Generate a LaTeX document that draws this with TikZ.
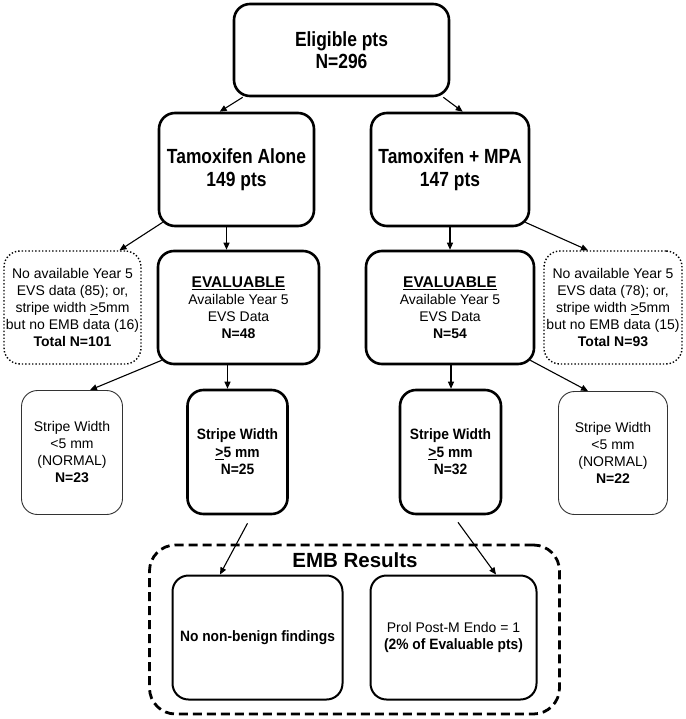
\documentclass[tikz,border=0pt]{standalone}
\usepackage{fontspec}
\setmainfont{Liberation Sans}
\newfontfamily\condA{Liberation Sans}[FakeStretch=0.85]
\newfontfamily\condB{Liberation Sans}[FakeStretch=0.92]
\usetikzlibrary{arrows.meta,calc}
\begin{document}
\begin{tikzpicture}[x=1pt,y=-1pt,
 box/.style={draw, rounded corners=16pt, align=center, inner sep=0pt},
 thickbox/.style={box, line width=2.6pt},
 thinbox/.style={box, line width=0.9pt, draw=black!80},
 dotbox/.style={box, line width=1.4pt, dotted},
 embbox/.style={box, line width=2pt},
 arr/.style={line width=1.1pt, -{Triangle[length=7pt,width=6pt]}},
 ttl/.style={font=\condA\fontsize{20.5}{22.5}\selectfont\bfseries},
 txt/.style={font=\fontsize{14}{17}\selectfont},
 btxt/.style={font=\condB\fontsize{15}{17.5}\selectfont\bfseries},
]
\useasboundingbox (0,0) rectangle (685,719);
\fill[white] (0,0) rectangle (685,719);

% row 1
\node[thickbox, ttl, minimum width=215pt, minimum height=92pt] (elig) at (341.5,50) {Eligible pts\\N=296};

% row 2
\node[thickbox, ttl, minimum width=155pt, minimum height=113pt] (tamA) at (236.5,169.5) {Tamoxifen Alone\\149 pts};
\node[thickbox, ttl, minimum width=158pt, minimum height=113pt] (tamM) at (450,169.5) {Tamoxifen + MPA\\147 pts};

% row 3
\node[dotbox, txt, minimum width=137pt, minimum height=113pt] (dotL) at (72.5,307.5)
 {No available Year 5\\EVS data (85); or,\\stripe width \underline{>}5mm\\but no EMB data (16)\\\textbf{Total N=101}};
\node[thickbox, txt, minimum width=161pt, minimum height=113pt] (evalL) at (238.5,307.5)
 {{\fontsize{15.5}{17}\selectfont\bfseries\underline{EVALUABLE}}\\Available Year 5\\EVS Data\\\textbf{N=48}};
\node[thickbox, txt, minimum width=168pt, minimum height=113pt] (evalR) at (450,307.5)
 {{\fontsize{15.5}{17}\selectfont\bfseries\underline{EVALUABLE}}\\Available Year 5\\EVS Data\\\textbf{N=54}};
\node[dotbox, txt, minimum width=138pt, minimum height=113pt] (dotR) at (613,307.5)
 {No available Year 5\\EVS data (78); or,\\stripe width \underline{>}5mm\\but no EMB data (15)\\\textbf{Total N=93}};

% row 4
\node[thinbox, txt, minimum width=101pt, minimum height=124pt] (normL) at (72,452.5)
 {Stripe Width\\<5 mm\\(NORMAL)\\\textbf{N=23}};
\node[thickbox, btxt, minimum width=100pt, minimum height=124pt] (boldL) at (237.5,452)
 {Stripe Width\\\underline{>}5 mm\\N=25};
\node[thickbox, btxt, minimum width=101pt, minimum height=124pt] (boldR) at (450.5,452)
 {Stripe Width\\\underline{>}5 mm\\N=32};
\node[thinbox, txt, minimum width=109pt, minimum height=123pt] (normR) at (613,453)
 {Stripe Width\\<5 mm\\(NORMAL)\\\textbf{N=22}};

% EMB results
\node[draw, line width=2.8pt, dash pattern=on 9pt off 5pt, rounded corners=26pt,
      minimum width=410pt, minimum height=169pt, inner sep=0pt] (emb) at (354.5,629.5) {};
\node[font=\fontsize{20.5}{24}\selectfont\bfseries, inner sep=0pt] (embt) at (355,560) {EMB Results};
\node[embbox, btxt, minimum width=170pt, minimum height=124pt] (inL) at (257.5,637.5)
 {No non-benign findings};
\node[embbox, txt, minimum width=166pt, minimum height=124pt] (inR) at (453.5,637.5)
 {Prol Post-M Endo = 1\\{\condB\fontsize{15}{17}\selectfont\bfseries (2\% of Evaluable pts)}};

% connectors
\draw[arr] ([xshift=10pt]elig.south west) -- ([xshift=62pt]tamA.north west);
\draw[arr] ([xshift=-7pt]elig.south east) -- ([xshift=93pt]tamM.north west);

\draw[arr] ([xshift=5pt,yshift=5pt]tamA.south west) -- ([xshift=47pt]dotL.north);
\draw[arr] ([xshift=-10pt]tamA.south) -- ([xshift=-10pt]tamA.south |- evalL.north);
\draw[arr] (tamM.south) -- (tamM.south |- evalR.north);
\draw[arr] ([xshift=-5pt,yshift=5pt]tamM.south east) -- ([xshift=-25pt]dotR.north);

\draw[arr] ([xshift=5pt,yshift=5pt]evalL.south west) -- ([xshift=18pt]normL.north);
\draw[arr] ([xshift=-11pt]evalL.south) -- ([xshift=-11pt]evalL.south |- boldL.north);
\draw[arr] ([xshift=1pt]evalR.south) -- ([xshift=1pt]evalR.south |- boldR.north);
\draw[arr] ([xshift=-5pt,yshift=5pt]evalR.south east) -- ([xshift=-25pt]normR.north);

\draw[arr] ([xshift=10pt,yshift=-8pt]boldL.south) -- ([xshift=-37.5pt]inL.north);
\draw[arr] ([xshift=7.5pt,yshift=-7pt]boldR.south) -- ([xshift=42.5pt]inR.north);
\end{tikzpicture}
\end{document}
